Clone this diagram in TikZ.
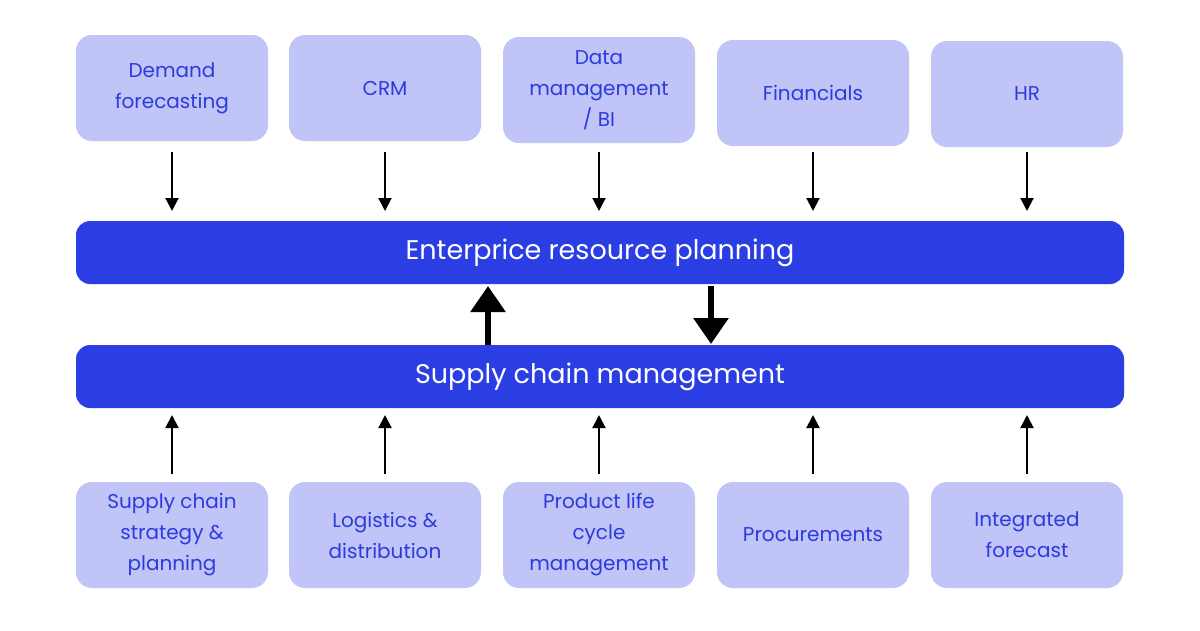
\documentclass[tikz,border=0pt]{standalone}
\usepackage{fontspec}
\setmainfont{Poppins}
\usetikzlibrary{arrows.meta}
\definecolor{lightb}{HTML}{C0C4F6}
\definecolor{darkb}{HTML}{2A3EE3}
\definecolor{txtb}{HTML}{2B3BDF}
\begin{document}
\begin{tikzpicture}[x=1pt,y=-1pt,
  box/.style={fill=lightb,rounded corners=16pt,minimum width=192pt,minimum height=106pt,align=center,text=txtb,font=\fontsize{20}{31}\selectfont,inner sep=0pt},
  bar/.style={fill=darkb,rounded corners=14pt,minimum width=1048pt,minimum height=63pt,text=white,font=\fontsize{27}{32}\selectfont,inner sep=0pt},
  arr/.style={-{Triangle[length=13pt,width=13pt]},line width=2pt,black},
  big/.style={-{Triangle[length=26pt,width=34pt]},line width=6pt,black}]
\useasboundingbox (0,0) rectangle (1200,630);
\node[bar] (erp) at (600,252.5) {Enterprice resource planning};
\node[bar] (scm) at (600,376.5) {Supply chain management};
\node[box] (t1) at (172,88) {Demand\\forecasting};
\node[box] (t2) at (385,88) {CRM};
\node[box] (t3) at (599,90) {Data\\management\\/ BI};
\node[box] (t4) at (813,93) {Financials};
\node[box] (t5) at (1027,94) {HR};
\node[box] (b1) at (172,535) {Supply chain\\strategy \&\\planning};
\node[box] (b2) at (385,535) {Logistics \&\\distribution};
\node[box] (b3) at (599,535) {Product life\\cycle\\management};
\node[box] (b4) at (813,535) {Procurements};
\node[box] (b5) at (1027,535) {Integrated\\forecast};
\foreach \i/\x in {1/172,2/385,3/599,4/813,5/1027}{
  \coordinate (ts\i) at (\x,152); \coordinate (te\i) at (\x,211);
  \coordinate (bs\i) at (\x,474); \coordinate (be\i) at (\x,415);
  \draw[arr] (ts\i) -- (te\i);
  \draw[arr] (bs\i) -- (be\i);
}
\coordinate (u1) at (488,345); \coordinate (u2) at (488,286);
\coordinate (d1) at (711,286); \coordinate (d2) at (711,344);
\draw[big] (u1) -- (u2);
\draw[big] (d1) -- (d2);
\end{tikzpicture}
\end{document}
